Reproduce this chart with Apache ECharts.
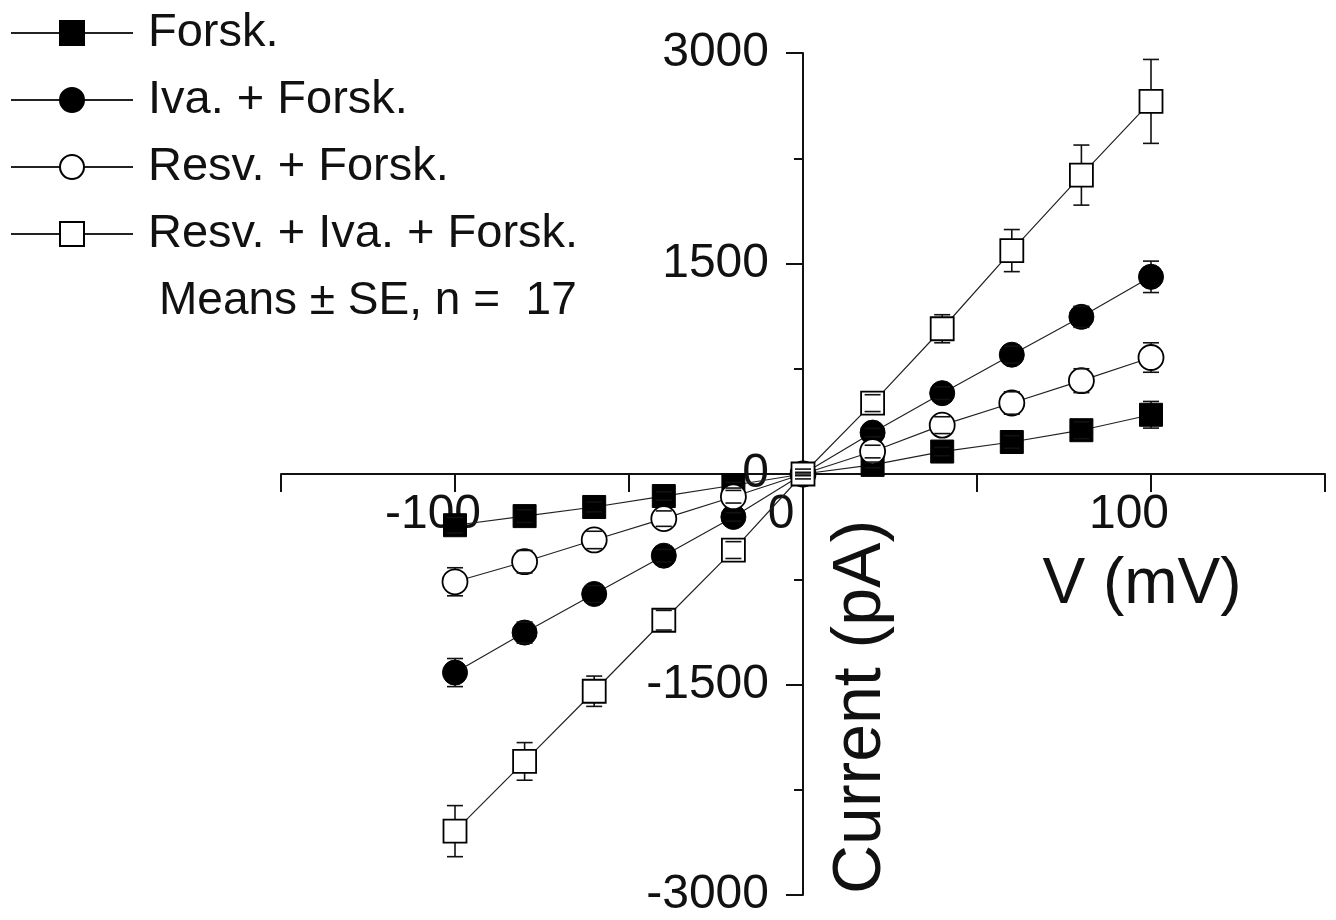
<!DOCTYPE html>
<html>
<head>
<meta charset="utf-8">
<script src="https://cdn.jsdelivr.net/npm/echarts@6/dist/echarts.min.js"></script>
<style>
  html, body { margin: 0; padding: 0; background: #fff; }
  #chart { width: 1336px; height: 920px; }
</style>
</head>
<body>
<div id="chart"></div>
<script>
// membrane voltage steps (mV)
const volts = [-100, -80, -60, -40, -20, 0, 20, 40, 60, 80, 100];

// mean currents (pA)
const forsk = [-365, -300, -235, -157, -80, 0, 65, 160, 228, 312, 422];
const ivaForsk = [-1415, -1130, -855, -582, -306, 0, 295, 576, 850, 1120, 1405];
const resvForsk = [-768, -625, -470, -318, -162, 0, 160, 348, 506, 665, 830];
const resvIvaForsk = [-2545, -2048, -1548, -1042, -542, 0, 505, 1035, 1592, 2130, 2655];

// standard errors (pA)
const forskSE = [55, 45, 35, 30, 20, 10, 20, 30, 45, 60, 95];
const ivaForskSE = [100, 75, 60, 45, 30, 10, 30, 45, 60, 75, 112];
const resvForskSE = [100, 80, 62, 55, 45, 10, 45, 60, 80, 85, 105];
const resvIvaForskSE = [182, 134, 108, 70, 60, 35, 60, 100, 150, 214, 299];

const xLabels = [-100, 0, 100];

const FONT = '"Liberation Sans", Arial, sans-serif';
const INK = '#111';

// plot box, axes cross at (0, 0) in the middle of it
const GRID = { left: 281, right: 11, top: 53, bottom: 25 };
const plotW = 1336 - GRID.left - GRID.right;
const plotH = 920 - GRID.top - GRID.bottom;

function pairs(ys) {
  return volts.map((v, i) => [v, ys[i]]);
}

function lineSeries(name, ys, symbol, size, filled) {
  return {
    type: 'line',
    name: name,
    data: pairs(ys),
    symbol: symbol,
    symbolSize: size,
    showAllSymbol: true,
    lineStyle: { color: '#222', width: 1.2 },
    itemStyle: {
      color: filled ? '#000' : '#fff',
      borderColor: '#000',
      borderWidth: filled ? 1 : 1.8
    },
    emphasis: { disabled: true },
    z: 2
  };
}

// part = 'stem' draws vertical bars under markers, 'cap' draws caps on top
function errorSeries(ys, errs, part) {
  return {
    type: 'custom',
    silent: true,
    z: part === 'stem' ? 1 : 3,
    data: volts.map((v, i) => [v, ys[i] - errs[i], ys[i] + errs[i]]),
    encode: { x: 0, y: [1, 2] },
    renderItem: function (params, api) {
      const top = api.coord([api.value(0), api.value(2)]);
      const bot = api.coord([api.value(0), api.value(1)]);
      const st = { stroke: INK, lineWidth: 1.6 };
      if (part === 'stem') {
        return { type: 'line', shape: { x1: top[0], y1: top[1], x2: bot[0], y2: bot[1] }, style: st };
      }
      const w = 8;
      return {
        type: 'group',
        children: [
          { type: 'line', shape: { x1: top[0] - w, y1: top[1], x2: top[0] + w, y2: top[1] }, style: st },
          { type: 'line', shape: { x1: bot[0] - w, y1: bot[1], x2: bot[0] + w, y2: bot[1] }, style: st }
        ]
      };
    }
  };
}

const names = ['Forsk.', 'Iva. + Forsk.', 'Resv. + Forsk.', 'Resv. + Iva. + Forsk.'];

const chart = echarts.init(document.getElementById('chart'));
chart.setOption({
  animation: false,
  backgroundColor: '#fff',
  textStyle: { fontFamily: FONT },
  grid: Object.assign({ outerBoundsMode: 'none' }, GRID),
  legend: {
    data: names,
    orient: 'vertical',
    left: 10,
    top: 8,
    padding: 0,
    itemWidth: 122,
    itemHeight: 30,
    itemGap: 17,
    selectedMode: false,
    textStyle: { fontFamily: FONT, fontSize: 47, lineHeight: 50, color: INK, padding: [0, 0, 0, 10] }
  },
  xAxis: {
    type: 'value',
    position: 'bottom',
    offset: -plotH / 2,
    min: -150,
    max: 150,
    interval: 50,
    axisLine: { onZero: false, lineStyle: { color: INK, width: 2 } },
    axisTick: { length: 18, lineStyle: { color: INK, width: 2 } },
    splitLine: { show: false },
    axisLabel: {
      fontFamily: FONT,
      fontSize: 48,
      color: INK,
      margin: 17,
      padding: [0, 44, 0, 0],
      formatter: v => (xLabels.indexOf(v) >= 0 ? String(v) : '')
    }
  },
  yAxis: {
    type: 'value',
    position: 'left',
    offset: -plotW / 2,
    min: -3000,
    max: 3000,
    interval: 1500,
    axisLine: { onZero: false, lineStyle: { color: INK, width: 2 } },
    axisTick: { length: 17, lineStyle: { color: INK, width: 2 } },
    minorTick: { show: true, splitNumber: 2, length: 9, lineStyle: { color: INK, width: 2 } },
    splitLine: { show: false },
    minorSplitLine: { show: false },
    axisLabel: { fontFamily: FONT, fontSize: 48, color: INK, margin: 34, formatter: v => String(v) }
  },
  graphic: [
    {
      type: 'text', x: 1142, y: 585,
      style: { text: 'V (mV)', font: '64px ' + FONT, fill: INK, align: 'center', verticalAlign: 'middle' }
    },
    {
      type: 'text', x: 861, y: 707, rotation: Math.PI / 2,
      style: { text: 'Current (pA)', font: '68px ' + FONT, fill: INK, align: 'center', verticalAlign: 'middle' }
    },
    {
      type: 'text', x: 159, y: 301,
      style: { text: 'Means \u00b1 SE, n =  17', font: '46px ' + FONT, fill: INK, align: 'left', verticalAlign: 'middle' }
    }
  ],
  series: [
    errorSeries(forsk, forskSE, 'stem'),
    errorSeries(ivaForsk, ivaForskSE, 'stem'),
    errorSeries(resvForsk, resvForskSE, 'stem'),
    errorSeries(resvIvaForsk, resvIvaForskSE, 'stem'),
    lineSeries(names[0], forsk, 'rect', 23, true),
    lineSeries(names[1], ivaForsk, 'circle', 25, true),
    lineSeries(names[2], resvForsk, 'circle', 25, false),
    lineSeries(names[3], resvIvaForsk, 'rect', 23, false),
    errorSeries(forsk, forskSE, 'cap'),
    errorSeries(ivaForsk, ivaForskSE, 'cap'),
    errorSeries(resvForsk, resvForskSE, 'cap'),
    errorSeries(resvIvaForsk, resvIvaForskSE, 'cap')
  ]
});
</script>
</body>
</html>
